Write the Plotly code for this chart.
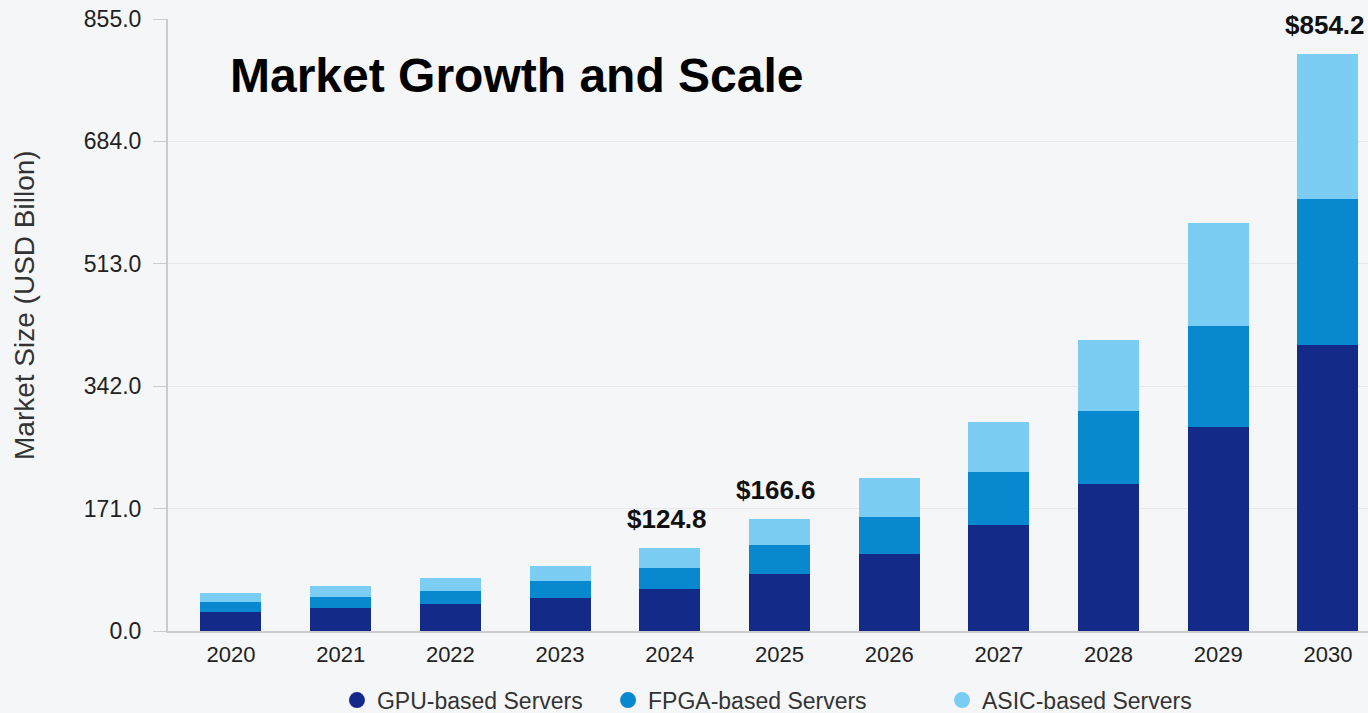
import plotly.graph_objects as go

years = ["2020", "2021", "2022", "2023", "2024", "2025", "2026", "2027", "2028", "2029", "2030"]
gpu = [27.0, 32.6, 37.3, 45.7, 58.7, 79.6, 107.2, 148.1, 204.9, 285.0, 399.1]
fpga = [14.0, 14.9, 18.6, 23.7, 29.7, 40.1, 52.5, 73.6, 102.9, 141.1, 204.4]
asic = [12.0, 14.9, 17.7, 21.4, 28.0, 37.2, 53.6, 70.7, 98.7, 143.5, 203.0]
series_names = ["GPU-based Servers", "FPGA-based Servers", "ASIC-based Servers"]
colors = ["#132a88", "#0788cf", "#7ccdf3"]

label_years = ["2024", "2025", "2030"]
label_texts = ["$124.8", "$166.6", "$854.2"]

y_ticks = [0, 171, 342, 513, 684, 855]

legend_ids = ["legend", "legend2", "legend3"]
legend_x = [0.1408, 0.3667, 0.645]

fig = go.Figure()
for name, vals, col in zip(series_names, [gpu, fpga, asic], colors):
    fig.add_trace(go.Bar(x=years, y=vals, name=name, marker=dict(color=col, line=dict(width=0)),
                         width=0.556, showlegend=False))
# legend entries with circular markers
for name, col, lid in zip(series_names, colors, legend_ids):
    fig.add_trace(go.Scatter(x=[None], y=[None], mode="markers", name=name, legend=lid,
                             marker=dict(color=col, size=18, symbol="circle")))

totals = [g + f + a for g, f, a in zip(gpu, fpga, asic)]
for yr, txt in zip(label_years, label_texts):
    idx = years.index(yr)
    fig.add_annotation(x=idx, y=totals[idx], text="<b>" + txt + "</b>", showarrow=False, yanchor="middle",
                       yshift=29, xshift=-3,
                       font=dict(family="Liberation Sans, Arial", size=26, color="#111111"))

fig.add_annotation(xref="paper", yref="paper", x=0.05, y=0.907, xanchor="left", yanchor="middle",
                   text="<b>Market Growth and Scale</b>", showarrow=False,
                   font=dict(family="Liberation Sans, Arial", size=48, color="#000000"))

# y-axis title
fig.add_annotation(xref="paper", yref="paper", x=-0.119, y=0.533, xanchor="center", yanchor="middle",
                   text="Market Size (USD Billon)", textangle=-90, showarrow=False,
                   font=dict(family="Liberation Sans, Arial", size=28, color="#333333"))

legend_style = dict(orientation="h", xanchor="left", yref="container", y=0.018, yanchor="middle",
                    font=dict(size=23, color="#333333"), bgcolor="rgba(0,0,0,0)", itemsizing="trace")

fig.update_layout(
    width=1368, height=713,
    barmode="stack",
    paper_bgcolor="#f5f6f7",
    plot_bgcolor="rgba(0,0,0,0)",
    margin=dict(l=168, r=0, t=19, b=82, autoexpand=False),
    font=dict(family="Liberation Sans, Arial", color="#333333"),
    xaxis=dict(type="category", range=[-0.574, 10.365], showgrid=False,
               showline=True, linecolor="#cccccc", linewidth=2,
               ticks="", ticklabelstandoff=3, tickfont=dict(size=22, color="#222222")),
    yaxis=dict(range=[0, 855], tickvals=y_ticks, tickformat=".1f",
               showgrid=True, gridcolor="#e8e8e8", gridwidth=1,
               showline=True, linecolor="#cccccc", linewidth=2,
               ticks="outside", ticklen=13, tickcolor="#cccccc", ticklabelstandoff=7,
               tickfont=dict(size=23, color="#222222"), zeroline=False),
    legend=dict(x=legend_x[0], **legend_style),
    legend2=dict(x=legend_x[1], **legend_style),
    legend3=dict(x=legend_x[2], **legend_style),
    bargap=0,
)

fig.write_html("out.html", config={"displayModeBar": False},
               post_script="document.body.style.margin='0px';document.body.style.overflow='hidden';")
